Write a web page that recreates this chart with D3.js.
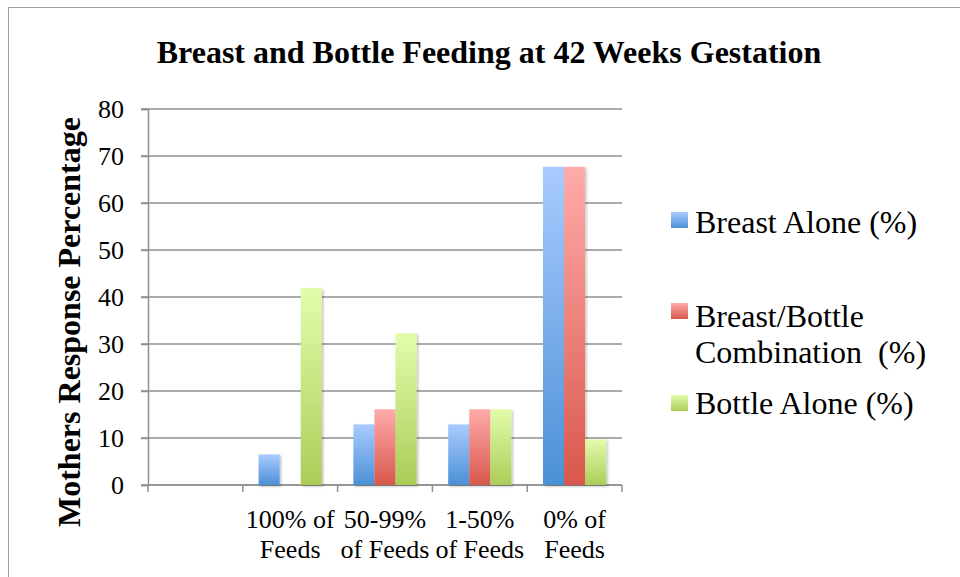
<!DOCTYPE html>
<html><head><meta charset="utf-8">
<script src="https://d3js.org/d3.v7.min.js"></script>
<style>html,body{margin:0;padding:0;background:#fff;overflow:hidden}
text{font-family:"Liberation Serif","Tinos","Times New Roman",Times,"DejaVu Serif",serif !important}</style>
</head><body>
<script>
const categories = ["", "100% of|Feeds", "50-99%|of Feeds", "1-50%|of Feeds", "0% of|Feeds"];
const seriesNames = ["Breast Alone (%)", "Breast/Bottle|Combination  (%)", "Bottle Alone (%)"];
const breastAlone = [0, 6.5, 12.9, 12.9, 67.7];
const combination = [0, 0, 16.1, 16.1, 67.7];
const bottleAlone = [0, 41.9, 32.3, 16.1, 9.7];
const yTicks = [0, 10, 20, 30, 40, 50, 60, 70, 80];
const title = "Breast and Bottle Feeding at 42 Weeks Gestation";
const yTitle = "Mothers Response Percentage";

(function () {
const W = 960, H = 577;
const svg = d3.select("body").append("svg").attr("width", W).attr("height", H);

const defs = svg.append("defs");
const grads = [["#a9cbff", "#4b90d6"], ["#ffabaa", "#d9584c"], ["#e3fcab", "#abcd58"]];
grads.forEach((g, i) => {
  const lg = defs.append("linearGradient").attr("id", "g" + i).attr("x1", 0).attr("y1", 0).attr("x2", 0).attr("y2", 1);
  lg.append("stop").attr("offset", "0%").attr("stop-color", g[0]);
  lg.append("stop").attr("offset", "100%").attr("stop-color", g[1]);
});
const f = defs.append("filter").attr("id", "sh").attr("x", "-20%").attr("y", "-5%").attr("width", "150%").attr("height", "120%");
f.append("feDropShadow").attr("dx", 1.5).attr("dy", 1.5).attr("stdDeviation", 1.2).attr("flood-color", "#000").attr("flood-opacity", 0.25);

// outer border
svg.append("rect").attr("x", 8.5).attr("y", 7.5).attr("width", 1000).attr("height", 1000)
  .attr("fill", "none").attr("stroke", "#a0a0a0").attr("stroke-width", 1);

const pL = 148, pR = 622, pT = 109, pB = 485;
const x = d3.scaleBand().domain(d3.range(categories.length)).range([pL, pR]).paddingInner(0).paddingOuter(0);
const y = d3.scaleLinear().domain([0, 80]).range([pB, pT]);
const bw = x.bandwidth() / 4.5;
const xs = d3.scaleBand().domain([0, 1, 2]).range([0.75 * bw, 3.75 * bw]);

// gridlines
svg.append("g").selectAll("line").data(yTicks).join("line")
  .attr("x1", pL - 7).attr("x2", pR).attr("y1", d => y(d)).attr("y2", d => y(d))
  .attr("stroke", "#8f8f8f").attr("stroke-width", 1.5);

// y axis
const yAxis = svg.append("g").attr("transform", `translate(${pL},0)`)
  .call(d3.axisLeft(y).tickValues(yTicks).tickSize(7).tickPadding(17));
yAxis.select(".domain").attr("stroke", "#8f8f8f").attr("stroke-width", 1.5);
yAxis.selectAll(".tick line").attr("stroke", "#8f8f8f").attr("stroke-width", 1.5);
yAxis.selectAll(".tick text").attr("font-size", 26).attr("fill", "#000");

// x axis ticks at boundaries
const bounds = d3.range(categories.length + 1).map(i => pL + i * x.step());
svg.append("line").attr("x1", pL).attr("x2", pR).attr("y1", pB).attr("y2", pB)
  .attr("stroke", "#8f8f8f").attr("stroke-width", 1.5);
svg.append("g").selectAll("line").data(bounds).join("line")
  .attr("x1", d => d).attr("x2", d => d).attr("y1", pB).attr("y2", pB + 7)
  .attr("stroke", "#8f8f8f").attr("stroke-width", 1.5);

// bars
const series = [breastAlone, combination, bottleAlone];
series.forEach((s, si) => {
  svg.append("g").selectAll("rect").data(s.map((v, i) => ({ v, i })).filter(d => d.v > 0)).join("rect")
    .attr("x", d => x(d.i) + xs(si)).attr("width", xs.bandwidth())
    .attr("y", d => y(d.v)).attr("height", d => y(0) - y(d.v))
    .attr("fill", `url(#g${si})`).attr("filter", "url(#sh)");
});

// x labels
categories.forEach((c, i) => {
  const lines = c.split("|");
  const t = svg.append("text").attr("text-anchor", "middle").attr("font-size", 26).attr("fill", "#000");
  lines.forEach((l, k) => {
    if (l) t.append("tspan").attr("x", x(i) + x.bandwidth() / 2).attr("y", 528 + k * 30).text(l);
  });
});

// title
svg.append("text").attr("x", 489).attr("y", 63).attr("text-anchor", "middle")
  .attr("font-size", 32).attr("font-weight", "bold").attr("fill", "#000").text(title);

// y title
svg.append("text").attr("transform", "translate(80,322) rotate(-90)").attr("text-anchor", "middle")
  .attr("font-size", 32).attr("font-weight", "bold").attr("fill", "#000").text(yTitle);

// legend
const legY = [[212, [233]], [303, [327, 363]], [395, [414]]];
seriesNames.forEach((n, i) => {
  svg.append("rect").attr("x", 671).attr("y", legY[i][0]).attr("width", 17).attr("height", 16)
    .attr("fill", `url(#g${i})`);
  const t = svg.append("text").attr("font-size", 32).attr("fill", "#000").style("white-space", "pre");
  n.split("|").forEach((l, k) => {
    t.append("tspan").attr("x", 695).attr("y", legY[i][1][k]).text(l);
  });
});
})();
</script>
</body></html>
